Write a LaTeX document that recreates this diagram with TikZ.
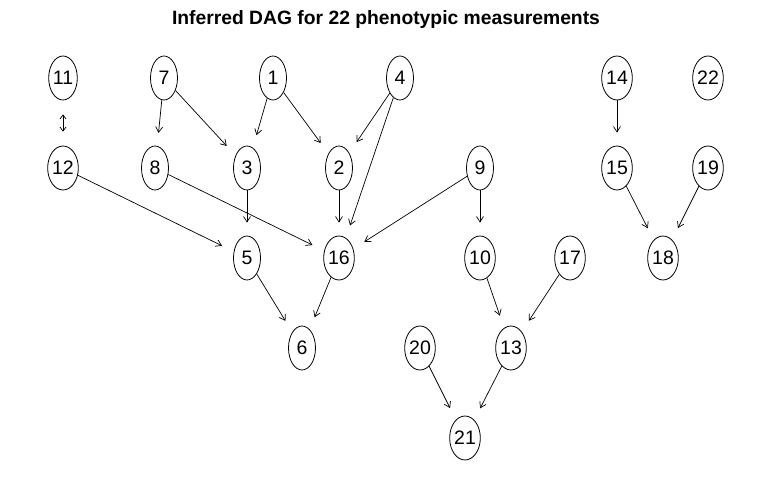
\documentclass[tikz,border=0pt]{standalone}
\usepackage{fontspec}
\setmainfont{Liberation Sans}
\usetikzlibrary{shapes.geometric,arrows.meta}
\begin{document}
\begin{tikzpicture}[x=1pt,y=-1pt,
  vnode/.style={draw,ellipse,minimum width=27pt,minimum height=44pt,inner sep=0pt,font=\fontsize{19.5}{19.5}\selectfont,line width=0.8pt},
  edge/.style={-{Straight Barb[length=5.5pt,width=7pt]},shorten >=13pt,line width=0.7pt},
  bidir/.style={{Straight Barb[length=4pt,width=6pt]}-{Straight Barb[length=4pt,width=6pt]},shorten >=14pt,shorten <=14pt,line width=0.7pt}]
\useasboundingbox[fill=white] (0,0) rectangle (772,484);
\node[font=\bfseries\fontsize{19.3}{19.3}\selectfont] (title) at (386,20) {Inferred DAG for 22 phenotypic measurements};
% row 1
\node[vnode] (n11) at (63,78) {11};
\node[vnode] (n7) at (164,78) {7};
\node[vnode] (n1) at (273,78) {1};
\node[vnode] (n4) at (400,78) {4};
\node[vnode] (n14) at (617,78) {14};
\node[vnode] (n22) at (708,78) {22};
% row 2
\node[vnode] (n12) at (63,168) {12};
\node[vnode] (n8) at (155,168) {8};
\node[vnode] (n3) at (247,168) {3};
\node[vnode] (n2) at (339,168) {2};
\node[vnode] (n9) at (480,168) {9};
\node[vnode] (n15) at (617,168) {15};
\node[vnode] (n19) at (708,168) {19};
% row 3
\node[vnode] (n5) at (247,258) {5};
\node[vnode] (n16) at (339,258) {16};
\node[vnode] (n10) at (480,258) {10};
\node[vnode] (n17) at (570,258) {17};
\node[vnode] (n18) at (663,258) {18};
% row 4
\node[vnode] (n6) at (302,348) {6};
\node[vnode] (n20) at (420,348) {20};
\node[vnode] (n13) at (511,348) {13};
% row 5
\node[vnode] (n21) at (465,438) {21};
% edges
\draw[bidir] (n11) -- (n12);
\draw[edge] (n7) -- (n8);
\draw[edge] (n7) -- (n3);
\draw[edge] (n1) -- (n3);
\draw[edge] (n1) -- (n2);
\draw[edge] (n4) -- (n2);
\draw[edge] (n4) -- (n16);
\draw[edge] (n14) -- (n15);
\draw[edge] (n12) -- (n5);
\draw[edge] (n8) -- (n16);
\draw[edge] (n3) -- (n5);
\draw[edge] (n2) -- (n16);
\draw[edge] (n9) -- (n16);
\draw[edge] (n9) -- (n10);
\draw[edge] (n15) -- (n18);
\draw[edge] (n19) -- (n18);
\draw[edge] (n5) -- (n6);
\draw[edge] (n16) -- (n6);
\draw[edge] (n10) -- (n13);
\draw[edge] (n17) -- (n13);
\draw[edge] (n20) -- (n21);
\draw[edge] (n13) -- (n21);
\end{tikzpicture}
\end{document}
